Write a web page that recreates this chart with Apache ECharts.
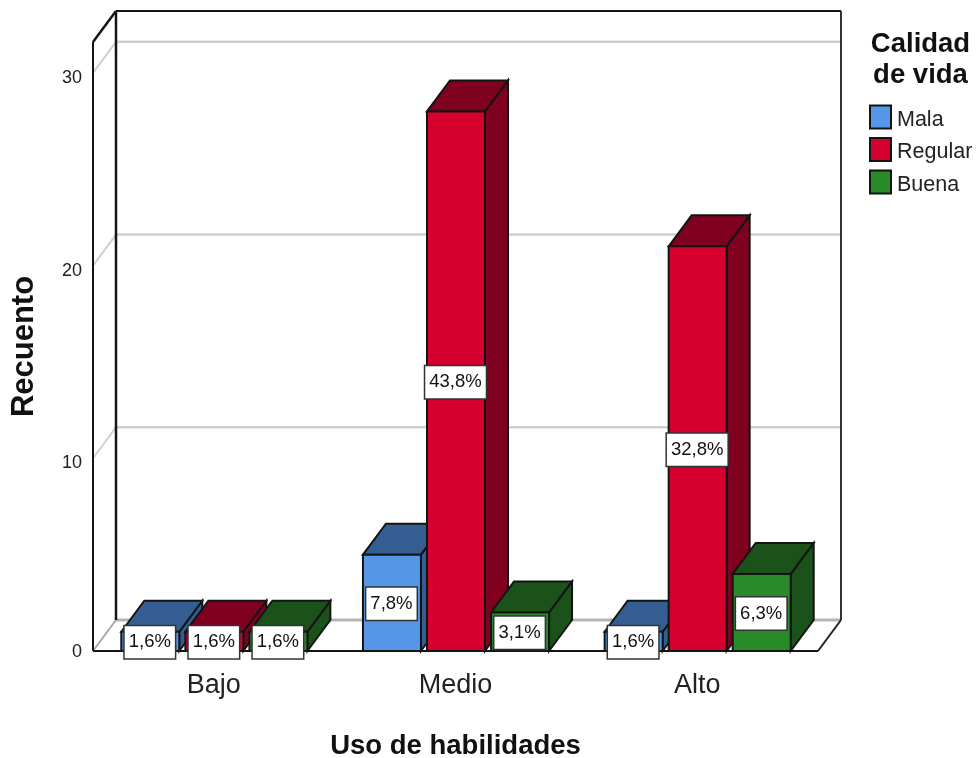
<!DOCTYPE html>
<html><head><meta charset="utf-8">
<style>html,body{margin:0;padding:0;background:#fff}#c{width:976px;height:758px}</style>
<script src="https://cdn.jsdelivr.net/npm/echarts@6/dist/echarts.min.js"></script>
</head><body><div id="c"></div>
<script>
const categories = ['Bajo','Medio','Alto'];
const seriesNames = ['Mala','Regular','Buena'];
const mala = [1,5,1];
const regular = [1,28,21];
const buena = [1,2,4];
const malaPct = ['1,6%','7,8%','1,6%'];
const regularPct = ['1,6%','43,8%','32,8%'];
const buenaPct = ['1,6%','3,1%','6,3%'];
const yTicks = [0,10,20,30];

const FONT = '"Liberation Sans", Arial, sans-serif';
const DX = 23, DY = -31;
const OUT = '#141414';
const faces = [
  {front:'#5596E6', dark:'#345E92'},
  {front:'#D6002F', dark:'#80001F'},
  {front:'#298A2A', dark:'#1A5219'}
];
const BAR_W = 0.24, BAR_STEP = 0.265;

function poly(points, fill, stroke, lw){
  return {type:'polygon', shape:{points}, style:{fill, stroke, lineWidth:lw}};
}
function line(x1,y1,x2,y2,stroke,lw){
  return {type:'line', shape:{x1,y1,x2,y2}, style:{stroke, lineWidth:lw, fill:null}};
}
function barRenderer(si){
  return function(params, api){
    const c = api.coord([api.value(0), api.value(1)]);
    const base = api.coord([api.value(0), 0]);
    const band = api.size([1,0])[0];
    const w = band*BAR_W;
    const x0 = c[0] + (si-1)*band*BAR_STEP - w/2 + 0.5, x1 = x0+w;
    const yT = c[1], yB = base[1];
    const f = faces[si];
    return {type:'group', children:[
      poly([[x1,yB],[x1+DX,yB+DY],[x1+DX,yT+DY],[x1,yT]], f.dark, OUT, 2),
      poly([[x0,yT],[x0+DX,yT+DY],[x1+DX,yT+DY],[x1,yT]], f.dark, OUT, 2),
      {type:'rect', shape:{x:x0,y:yT,width:w,height:yB-yT}, style:{fill:f.front,stroke:OUT,lineWidth:2}}
    ]};
  };
}
function wallRenderer(params, api){
  const g = params.coordSys;
  const L = g.x, R = g.x+g.width, T = g.y, B = g.y+g.height;
  const kids = [];
  yTicks.forEach(v=>{
    const y = api.coord([0,v])[1];
    if (v>0) kids.push(line(L,y,L+DX,y+DY,'#cfcfcf',2));
    kids.push(line(L+DX,y+DY,R+DX,y+DY,v===0?'#b4b4b4':'#cfcfcf',v===0?3:2.5));
  });
  kids.push(line(L,B,L+DX,B+DY,'#a8a8a8',2));
  kids.push(line(L,T,L,B,OUT,2));
  kids.push(line(L+DX,T+DY,L+DX,B+DY,OUT,2.5));
  kids.push(line(L,T,L+DX,T+DY,OUT,2.5));
  kids.push(line(L+DX,T+DY,R+DX,T+DY,OUT,2));
  kids.push(line(R+DX,T+DY,R+DX,B+DY,'#333',2));
  kids.push(line(R,B,R+DX,B+DY,'#222',2));
  kids.push(line(L,B,R,B,OUT,2));
  return {type:'group', children:kids};
}
function labelRenderer(params, api){
  const si = api.value(2);
  const band = api.size([1,0])[0];
  const c = api.coord([api.value(0), api.value(1)/2]);
  return {type:'text', z2:100, style:{
    x:c[0]+(si-1)*band*BAR_STEP, y:c[1]+1, text:api.value(3),
    font:'18.5px '+FONT, fill:'#111', align:'center', verticalAlign:'middle',
    backgroundColor:'#fff', borderColor:'#333', borderWidth:1.5, padding:[7,4,6,4]
  }};
}
const values = [mala, regular, buena];
const pcts = [malaPct, regularPct, buenaPct];
const labelRows = [];
values.forEach((arr,si)=>arr.forEach((v,ci)=>labelRows.push([ci,v,si,pcts[si][ci]])));

const barSeries = seriesNames.map((name,si)=>({
  type:'custom', name, z:5+si, renderItem:barRenderer(si), silent:true,
  itemStyle:{color:faces[si].front},
  encode:{x:0,y:1},
  data:values[si].map((v,ci)=>[ci,v])
}));

const chart = echarts.init(document.getElementById('c'),null,{renderer:'canvas'});
chart.setOption({
  animation:false, backgroundColor:'#fff',
  title:{text:'Calidad\nde vida', left:915.5, top:24, textAlign:'center',
    textStyle:{fontFamily:FONT,fontSize:27.5,fontWeight:'bold',color:'#111',lineHeight:31}},
  legend:{data:seriesNames, orient:'vertical', left:864, top:98, itemWidth:21, itemHeight:23, itemGap:4.5,
    icon:'rect', selectedMode:false, itemStyle:{borderColor:OUT,borderWidth:2},
    formatter:name=>'{t|'+name+'}',
    textStyle:{fontFamily:FONT,fontSize:21.5,color:'#222',
      rich:{t:{fontFamily:FONT,fontSize:21.5,color:'#222',lineHeight:20,padding:[6,0,0,1]}}}},
  grid:{left:93,right:158,top:42,bottom:107,outerBoundsMode:'none'},
  xAxis:{type:'category',data:categories,name:'Uso de habilidades',nameLocation:'middle',nameGap:81,
    nameTextStyle:{fontFamily:FONT,fontSize:27.5,fontWeight:'bold',color:'#111'},
    axisLine:{show:false},axisTick:{show:false},splitLine:{show:false},
    axisLabel:{fontFamily:FONT,fontSize:27,color:'#222',margin:21}},
  yAxis:{type:'value',min:0,max:31.6,name:'Recuento',nameLocation:'middle',nameGap:53,nameRotate:90,
    nameTextStyle:{fontFamily:FONT,fontSize:31,fontWeight:'bold',color:'#111'},
    axisLine:{show:false},axisTick:{show:false},splitLine:{show:false},
    axisLabel:{customValues:yTicks,fontFamily:FONT,fontSize:18,color:'#222',margin:11,
      verticalAlign:'top',lineHeight:10,
      formatter:v=>v===0?'{z|0}':String(v),
      rich:{z:{fontFamily:FONT,fontSize:18,color:'#222',lineHeight:2}}}},
  series:[
    {type:'custom',name:'walls',z:1,silent:true,renderItem:wallRenderer,encode:{x:0,y:1},data:[[0,0]]},
    ...barSeries,
    {type:'custom',name:'labels',z:20,silent:true,renderItem:labelRenderer,encode:{x:0,y:1},data:labelRows}
  ]
});
</script></body></html>
